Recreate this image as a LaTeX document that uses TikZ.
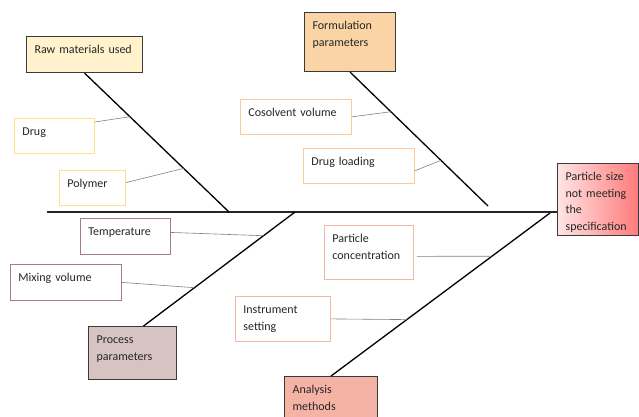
\documentclass[tikz,border=0pt]{standalone}
\usepackage{fontspec}
\setmainfont{Carlito}
\usetikzlibrary{calc}

\definecolor{rawfill}{HTML}{FFF2CC}
\definecolor{rawline}{HTML}{FFE08A}
\definecolor{formfill}{HTML}{FBD4A6}
\definecolor{formline}{HTML}{F9C99A}
\definecolor{procfill}{HTML}{D8C3C3}
\definecolor{procline}{HTML}{A47E7E}
\definecolor{anafill}{HTML}{F4B3A4}
\definecolor{analine}{HTML}{F4B6A6}
\definecolor{effleft}{HTML}{FFE4E4}
\definecolor{effright}{HTML}{FF7A7A}
\definecolor{boxline}{HTML}{3A3A3A}

\tikzset{
    mainbox/.style={draw=boxline, line width=1.1pt, anchor=north west, align=left,
        inner xsep=8pt, inner ysep=0pt, text height=17pt},
    subbox/.style={draw, line width=0.8pt, fill=white, anchor=north west, align=left,
        inner xsep=8pt, inner ysep=0pt, text height=17pt},
    bone/.style={line width=1.3pt, black},
    twig/.style={line width=0.6pt, gray},
}

\begin{document}
\begin{tikzpicture}[x=1pt, y=-1pt,
    every node/.style={font=\fontsize{12}{16.7}\selectfont, text=black!85}]

    \useasboundingbox (0,0) rectangle (639,417);

    % --- Effect and spine ---
    \node[mainbox, left color=effleft, right color=effright, text width=65pt, text depth=55pt]
        (effect) at (557,163) {Particle size\\not meeting\\the\\specification};
    \coordinate (tail) at (47,212);
    \draw[line width=1.8pt, black!85] (tail) -- (tail -| effect.west);

    % --- Cause boxes (main categories) ---
    \node[mainbox, fill=rawfill, text width=100pt, text depth=19pt]
        (raw) at (26,36) {Raw materials used};
    \node[mainbox, fill=formfill, text width=75pt, text depth=42pt]
        (formul) at (304,12) {Formulation\\parameters};
    \node[mainbox, fill=procfill, text width=72pt, text depth=36pt]
        (process) at (88,326) {Process\\parameters};
    \node[mainbox, fill=anafill, text width=77pt, text depth=40pt]
        (analysis) at (284,376) {Analysis\\methods};

    % --- Bones ---
    % end points of the bones near the spine
    \coordinate (rawhead) at (229,212);
    \coordinate (formhead) at (488,206);
    \coordinate (prochead) at (295,212);
    \coordinate (anahead) at (550,213);

    \draw[bone] (raw.south) -- (rawhead)
        coordinate[pos=0.314] (drugjoin) coordinate[pos=0.686] (polyjoin);
    \draw[bone] (formul.south) -- (formhead)
        coordinate[pos=0.296] (cosoljoin) coordinate[pos=0.659] (loadjoin);
    \draw[bone] (process.north) ++(11,0) coordinate (procfoot) -- (prochead)
        coordinate[pos=0.792] (tempjoin) coordinate[pos=0.336] (mixjoin);
    \draw[bone] (analysis.north) -- (anahead)
        coordinate[pos=0.735] (concjoin) coordinate[pos=0.346] (instrjoin);

    % --- Sub-causes ---
    \node[subbox, draw=rawline, text width=64pt, text depth=18pt]
        (drug) at (14,118) {Drug};
    \node[subbox, draw=rawline, text width=50pt, text depth=18pt]
        (polymer) at (59,170) {Polymer};

    \node[subbox, draw=formline, text width=95pt, text depth=18pt]
        (cosolv) at (240,99) {Cosolvent volume};
    \node[subbox, draw=formline, text width=95pt, text depth=18pt]
        (drugload) at (303,148) {Drug loading};

    \node[subbox, draw=procline, text width=74pt, text depth=19pt]
        (temp) at (80,218) {Temperature};
    \node[subbox, draw=procline, text width=95pt, text depth=19pt]
        (mixing) at (10,264) {Mixing volume};

    \node[subbox, draw=analine, text width=73pt, text depth=37pt]
        (partconc) at (324,225) {Particle\\concentration};
    \node[subbox, draw=analine, text width=79pt, text depth=28pt]
        (instr) at (235,296) {Instrument\\setting};

    % --- Twigs from sub-causes to bones ---
    \draw[twig] (drug.19) -- (drugjoin);
    \draw[twig] (polymer.9) -- (polyjoin);
    \draw[twig] (cosolv.east) -- (cosoljoin);
    \draw[twig] (drugload.-5) -- (loadjoin);
    \draw[twig] (temp.5) -- (tempjoin);
    \draw[twig] (mixing.east) -- (mixjoin);
    \draw[twig] ($(partconc.-5)+(3,0)$) -- (concjoin);
    \draw[twig] (instr.east) -- (instrjoin);

\end{tikzpicture}
\end{document}
